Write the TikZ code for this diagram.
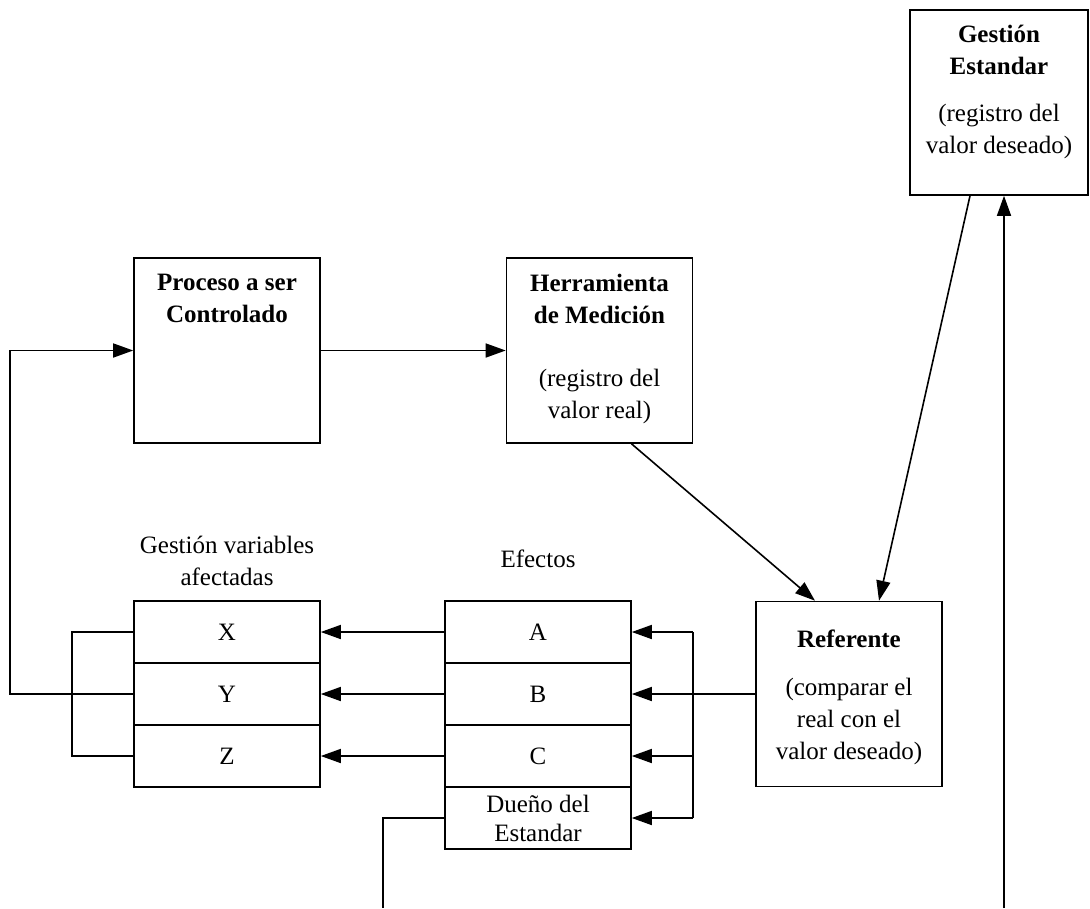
\documentclass[tikz,border=0pt]{standalone}
\usepackage{fontspec}
\setmainfont{Liberation Serif}
\usetikzlibrary{arrows.meta,positioning}

\begin{document}
\begin{tikzpicture}[x=1pt,y=-1pt,
  box/.style={draw, line width=1.6pt, minimum width=186pt, minimum height=185pt, inner sep=0pt},
  cell/.style={draw, line width=1.6pt, minimum width=186pt, minimum height=62pt, inner sep=0pt, align=center, font={\fontsize{25}{29}\selectfont}},
  txt/.style={align=center, inner sep=0pt, font={\fontsize{25}{32}\selectfont}},
  arr/.style={-{Triangle[length=20pt,width=14pt]}, line width=1.6pt},
  wire/.style={line width=1.6pt}]
\useasboundingbox (0,0) rectangle (1090,908);
%1. 主要的方框
\node[box] (proc) at (227,350.5) {};
\node[box] (herr) at (599.5,350.5) {};
\node[box] (ref) at (849,694) {};
\node[box, minimum width=178pt] (ges) at (999,102.5) {};
%2. 方框里的文字
\node[txt, below=17pt of proc.north] (proctxt) {\textbf{Proceso a ser}\\\textbf{Controlado}};
\node[txt, below=17pt of herr.north] (herrtxt) {\textbf{Herramienta}\\\textbf{de Medición}\\[31pt](registro del\\valor real)};
\node[txt, below=16pt of ges.north] (gestxt) {\textbf{Gestión}\\\textbf{Estandar}\\[15pt](registro del\\valor deseado)};
\node[txt, below=29pt of ref.north] (reftxt) {\textbf{Referente}\\[16pt](comparar el\\real con el\\valor deseado)};
%3. 效果与变量
\node[txt] (varlbl) at (227,561) {Gestión variables\\afectadas};
\node[txt] (eflbl) at (538,559) {Efectos};
\foreach \n/\y in {A/632, B/694, C/756}
	{\node[cell] (\n) at (538,\y) {\n};}
\node[cell] (dueno) at (538,818) {Dueño del\\Estandar};
\foreach \n/\y in {X/632, Y/694, Z/756}
	{\node[cell] (\n) at (227,\y) {\n};}
%4. 连线
\draw[arr] (proc) -- (herr);
\draw[arr] ([xshift=32pt]herr.south) -- ([xshift=-34pt]ref.north);
\draw[arr] ([xshift=-29pt]ges.south) -- ([xshift=30pt]ref.north);
\coordinate (gesin) at (1004,908);
\draw[arr] (gesin) -- (gesin |- ges.south);
\coordinate (bus) at (693,694);
\draw[arr] (ref) -- (B);
\draw[wire] (bus |- A) -- (bus |- dueno);
\foreach \n in {A, C, dueno}
	{\draw[arr] (bus |- \n) -- (\n);}
\foreach \a/\b in {A/X, B/Y, C/Z}
	{\draw[arr] (\a) -- (\b);}
\coordinate (brk) at (72,694);
\draw[wire] (X.west) -| (brk |- Z) -- (Z.west);
\coordinate (lft) at (10,694);
\draw[arr] (Y.west) -- (lft) |- (proc.west);
\coordinate (own) at (383,908);
\draw[wire] (dueno.west) -| (own);
\end{tikzpicture}
\end{document}
